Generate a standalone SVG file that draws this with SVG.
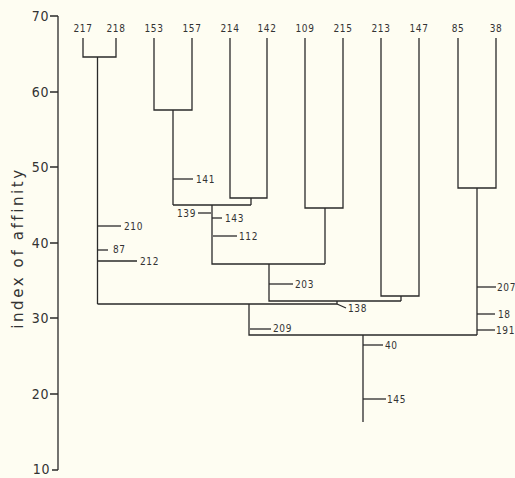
<svg xmlns="http://www.w3.org/2000/svg" width="515" height="478" viewBox="0 0 515 478">
<style>
.ln{stroke:#2a2a2a;stroke-width:1.3;fill:none}
.lf{font-family:"DejaVu Sans Condensed","Liberation Sans",sans-serif;font-size:10px;fill:#333;letter-spacing:0.6px}
.lb{font-family:"DejaVu Sans Condensed","Liberation Sans",sans-serif;font-size:10px;fill:#333;letter-spacing:0.6px}
.tk{font-family:"DejaVu Sans Condensed","Liberation Sans",sans-serif;font-size:14px;fill:#333;letter-spacing:0.6px;text-anchor:end}
.ax{font-family:"DejaVu Sans","Liberation Sans",sans-serif;font-size:15px;fill:#333;letter-spacing:2.6px;text-anchor:middle}
</style>
<rect width="515" height="478" fill="#fefdf2"/>
<g id="axis">
<path class="ln" d="M58,16V470M50,16H58M50,92H58M50,167H58M50,243H58M50,318H58M50,394H58M52,470H58"/>
<text class="tk" x="49" y="21">70</text>
<text class="tk" x="49" y="97">60</text>
<text class="tk" x="49" y="172">50</text>
<text class="tk" x="49" y="248">40</text>
<text class="tk" x="49" y="323">30</text>
<text class="tk" x="49" y="399">20</text>
<text class="tk" x="50" y="474">10</text>
<text class="ax" transform="translate(23,248) rotate(-90)">index of affinity</text>
</g>
<g id="leaves">
<text class="lf" x="83" y="32" text-anchor="middle">217</text>
<text class="lf" x="116" y="32" text-anchor="middle">218</text>
<text class="lf" x="154" y="32" text-anchor="middle">153</text>
<text class="lf" x="192" y="32" text-anchor="middle">157</text>
<text class="lf" x="230" y="32" text-anchor="middle">214</text>
<text class="lf" x="267" y="32" text-anchor="middle">142</text>
<text class="lf" x="305" y="32" text-anchor="middle">109</text>
<text class="lf" x="343" y="32" text-anchor="middle">215</text>
<text class="lf" x="381" y="32" text-anchor="middle">213</text>
<text class="lf" x="419" y="32" text-anchor="middle">147</text>
<text class="lf" x="458" y="32" text-anchor="middle">85</text>
<text class="lf" x="496" y="32" text-anchor="middle">38</text>
</g>
<g id="connectors">
<path class="ln" d="M83,38V57H116V38M97.5,57V304"/>
<path class="ln" d="M154,38V110H192V38M173,110V205"/>
<path class="ln" d="M230,38V198H267V38M251,198V205M173,205H251"/>
<path class="ln" d="M212,205V264H325M305,38V208H343V38M325,208V264"/>
<path class="ln" d="M269,264V301H401M381,38V296H419V38M401,296V301"/>
<path class="ln" d="M337,301V304H97.5M249,304V335H477"/>
<path class="ln" d="M458,38V188H496V38M477,188V335"/>
<path class="ln" d="M363,335V422"/>
</g>
<g id="labels">
<path class="ln" d="M173,179H193"/><text class="lb" x="196" y="183">141</text>
<path class="ln" d="M198,213H211"/><text class="lb" x="196" y="217" text-anchor="end">139</text>
<path class="ln" d="M212,218H222"/><text class="lb" x="225" y="222">143</text>
<path class="ln" d="M213,236H237"/><text class="lb" x="239" y="240">112</text>
<path class="ln" d="M98,226H121"/><text class="lb" x="124" y="230">210</text>
<path class="ln" d="M98,250H108"/><text class="lb" x="113" y="253">87</text>
<path class="ln" d="M98,261H137"/><text class="lb" x="140" y="265">212</text>
<path class="ln" d="M269,284H293"/><text class="lb" x="295" y="288">203</text>
<path class="ln" d="M337,304L346,308"/><text class="lb" x="348" y="312">138</text>
<path class="ln" d="M250,329H271"/><text class="lb" x="273" y="332">209</text>
<path class="ln" d="M477,287H496"/><text class="lb" x="497" y="291">207</text>
<path class="ln" d="M477,314H495"/><text class="lb" x="498" y="318">18</text>
<path class="ln" d="M477,330H495"/><text class="lb" x="496" y="334">191</text>
<path class="ln" d="M363,345H383"/><text class="lb" x="385" y="349">40</text>
<path class="ln" d="M363,399H386"/><text class="lb" x="387" y="403">145</text>
</g>
</svg>
